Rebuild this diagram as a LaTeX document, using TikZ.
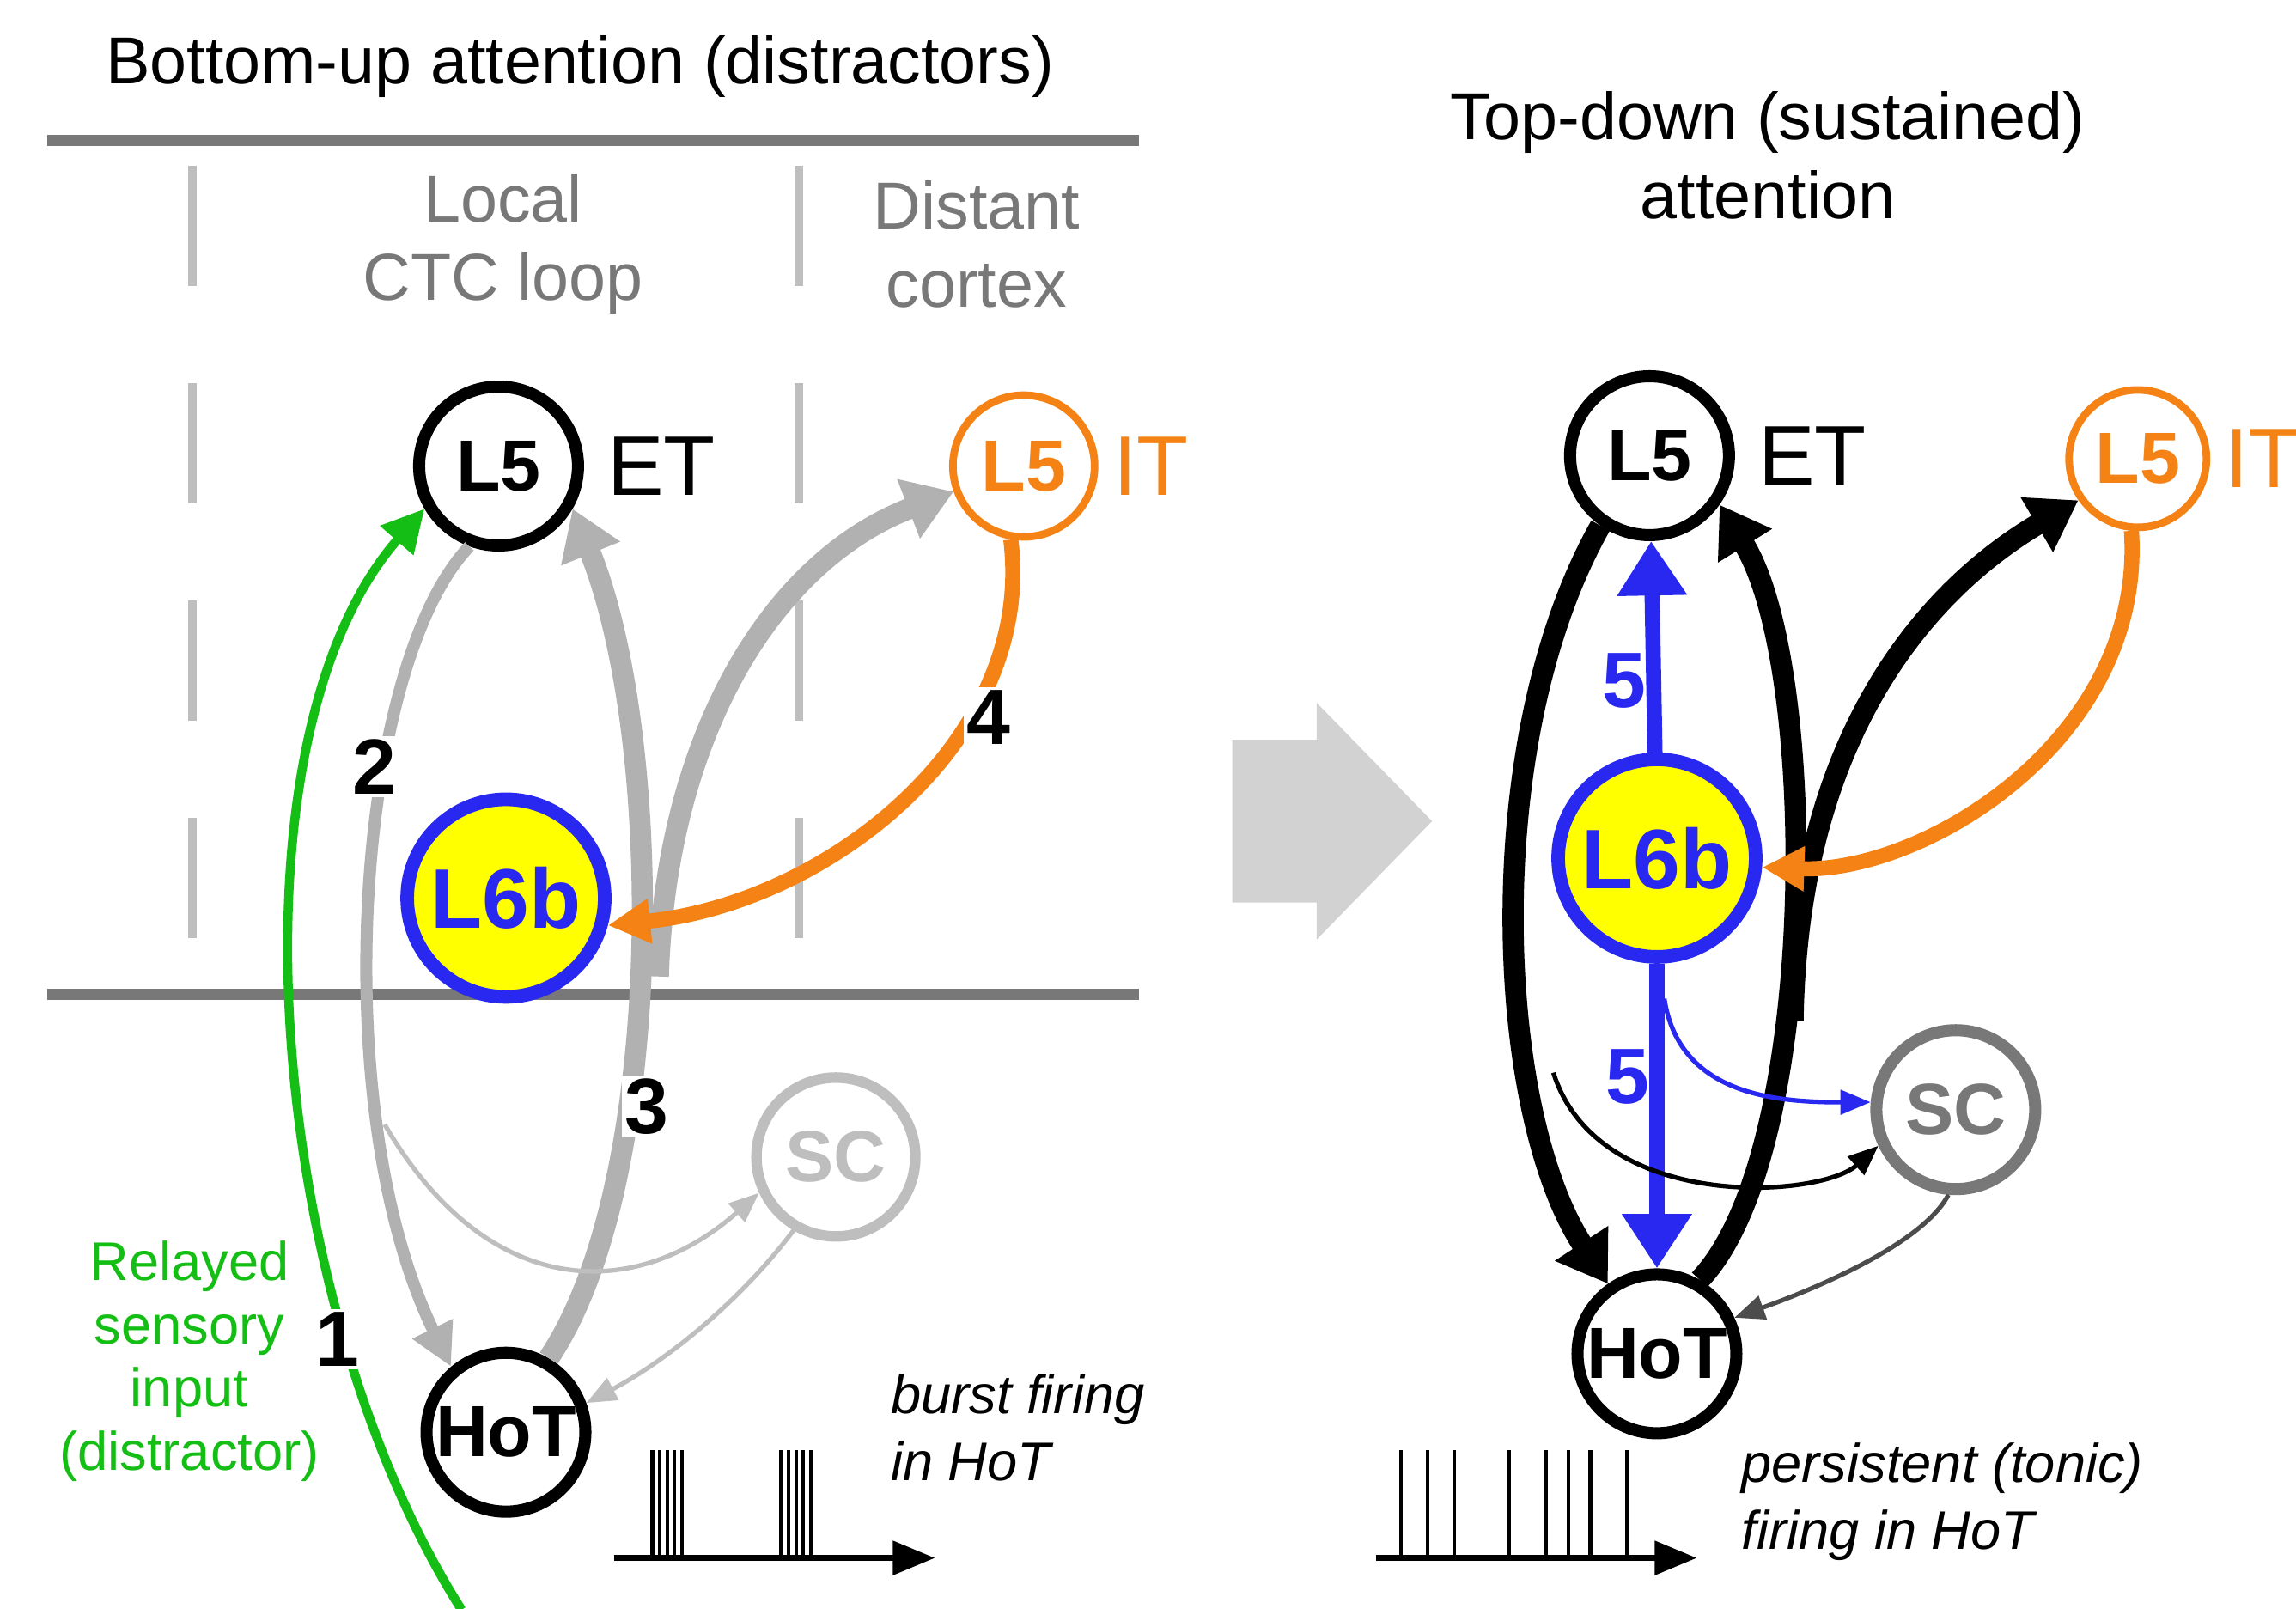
\documentclass[tikz,border=0pt]{standalone}
\usepackage{fontspec}
\setmainfont{Liberation Sans}
\usetikzlibrary{arrows.meta, positioning, shapes}
\definecolor{my_gray}{RGB}{120,120,120}
\definecolor{my_lightgray}{RGB}{190,190,190}
\definecolor{my_orange}{RGB}{245,130,20}
\definecolor{my_green}{RGB}{20,190,20}
\definecolor{my_blue}{RGB}{40,40,240}
\definecolor{my_yellow}{RGB}{255,255,0}
\tikzset {
  cell/.style = {draw, circle, line width=4pt, minimum size=1.85cm, inner sep=0pt, font=\fontsize{24}{24}\selectfont\bfseries},
  bigcell/.style = {cell, draw=my_blue, fill=my_yellow, text=my_blue, minimum size=2.3cm, line width=4.5pt, font=\fontsize{28}{28}\selectfont\bfseries},
  lbl/.style = {font=\fontsize{22}{26}\selectfont, align=center},
  num/.style = {font=\fontsize{26}{26}\selectfont\bfseries, fill=white, inner sep=1pt},
  fat/.style = {line width=7pt, -{Triangle[length=16pt, width=20pt]}},
  mid/.style = {line width=4pt, -{Triangle[length=14pt, width=14pt]}},
  slim/.style = {line width=1.5pt, -{Triangle[length=10pt, width=8pt]}},
  layer/.style = {line width=3.5pt, draw=my_gray},
  spike/.style = {line width=1.2pt},
}
\begin{document}
\begin{tikzpicture}[x=0.01722cm, y=-0.01722cm]
    \useasboundingbox (0,0) rectangle (1552,1087);

    % left panel
    \node[lbl] (title_bu) at (392,45) {Bottom-up attention (distractors)};
    \draw[layer] (32,95) -- (770,95);
    \draw[layer] (32,672) -- (770,672);
    \draw[my_lightgray, line width=3pt, dash pattern=on 40pt off 32pt] (130,112) -- (130,640);
    \draw[my_lightgray, line width=3pt, dash pattern=on 40pt off 32pt] (540,112) -- (540,640);
    \node[lbl, text=my_gray] (local) at (340,165) {Local\\CTC loop};
    \node[lbl, text=my_gray] (distant) at (660,165) {Distant\\cortex};

    \node[cell] (et) at (337,315) {L5};
    \node[lbl, font=\fontsize{28}{28}\selectfont, right=0.15cm of et] (et_l) {ET};
    \node[cell, draw=my_orange, text=my_orange, line width=2.5pt, minimum size=1.65cm] (it) at (692,315) {L5};
    \node[lbl, font=\fontsize{28}{28}\selectfont, text=my_orange, right=0.05cm of it] (it_l) {IT};
    \node[bigcell] (l6b) at (342,607) {L6b};
    \node[cell] (hot) at (342,968) {HoT};
    \node[cell, draw=my_lightgray, text=my_lightgray, line width=3.5pt] (sc) at (565,782) {SC};

    \coordinate (green_start) at (312,1088);
    \coordinate (gray_src) at (260,760);
    \coordinate (branch) at (445,660);

    \draw[my_green, mid, line width=3pt] (green_start) .. controls (180,880) and (150,500) .. (et.210);
    \draw[my_lightgray!80!gray, mid] (et.250) .. controls (240,450) and (220,750) .. (hot.130);
    \draw[my_lightgray!80!gray, fat] (hot.60) .. controls (450,800) and (450,500) .. (et.-30);
    \draw[my_lightgray!80!gray, fat] (branch) .. controls (450,500) and (520,380) .. (it.200);
    \draw[my_orange, mid, line width=5pt] (it.260) .. controls (700,500) and (560,610) .. (l6b.-15);
    \draw[my_lightgray, slim] (gray_src) .. controls (330,880) and (430,880) .. (sc.205);
    \draw[my_lightgray, slim] (sc.240) .. controls (500,880) and (450,920) .. (hot.20);

    \node[num] (n1) at (228,905) {1};
    \node[num] (n2) at (253,518) {2};
    \node[num] (n3) at (437,748) {3};
    \node[num] (n4) at (668,485) {4};
    \node[lbl, text=my_green, font=\fontsize{18}{21}\selectfont] (relay) at (128,920) {Relayed\\sensory\\input\\(distractor)};

    \node[lbl, font=\fontsize{18}{22}\selectfont\itshape, align=left, anchor=west] (burst) at (595,965) {burst firing\\in HoT};
    \coordinate (base_l0) at (415,1053);
    \coordinate (base_l1) at (632,1053);
    \draw[line width=2pt, -{Triangle[length=14pt, width=11pt]}] (base_l0) -- (base_l1);
    \foreach \x in {441,446,451,456,461,528,533,538,543,548}
        \draw[spike] (\x,1053) -- (\x,980);

    % transition arrow
    \fill[my_lightgray!70] (833,500) -- (890,500) -- (890,475) -- (968,555) -- (890,635) -- (890,610) -- (833,610) -- cycle;

    % right panel
    \node[lbl] (title_td) at (1195,105) {Top-down (sustained)\\attention};

    \node[cell] (et2) at (1115,308) {L5};
    \node[lbl, font=\fontsize{28}{28}\selectfont, right=0.15cm of et2] (et2_l) {ET};
    \node[cell, draw=my_orange, text=my_orange, line width=2.5pt, minimum size=1.6cm] (it2) at (1445,310) {L5};
    \node[lbl, font=\fontsize{28}{28}\selectfont, text=my_orange, right=0.05cm of it2] (it2_l) {IT};
    \node[bigcell] (l6b2) at (1120,580) {L6b};
    \node[cell, draw=my_gray, text=my_gray] (sc2) at (1322,750) {SC};
    \node[cell] (hot2) at (1120,915) {HoT};

    \coordinate (branch2) at (1212,690);
    \coordinate (black_src) at (1050,725);
    \coordinate (blue_src) at (1125,675);

    \draw[black, fat] (et2.235) .. controls (1000,500) and (1010,750) .. (hot2.125);
    \draw[black, fat] (hot2.60) .. controls (1230,780) and (1230,450) .. (et2.-35);
    \draw[black, fat] (branch2) .. controls (1215,500) and (1300,400) .. (it2.215);
    \draw[my_orange, mid, line width=5pt] (it2.265) .. controls (1450,500) and (1300,590) .. (l6b2.-5);
    \draw[my_blue, line width=5pt, -{Triangle[length=18pt, width=22pt]}] (l6b2) -- (et2);
    \draw[my_blue, line width=5pt, -{Triangle[length=18pt, width=22pt]}] (l6b2) -- (hot2);
    \draw[my_blue, slim] (blue_src) .. controls (1135,740) and (1200,745) .. (sc2.175);
    \draw[black, slim] (black_src) .. controls (1080,820) and (1230,810) .. (sc2.205);
    \draw[black!70, slim] (sc2.265) .. controls (1300,840) and (1230,870) .. (hot2.25);

    \node[num, text=my_blue, fill=none] (n5a) at (1098,460) {5};
    \node[num, text=my_blue, fill=none] (n5b) at (1100,728) {5};

    \node[lbl, font=\fontsize{18}{22}\selectfont\itshape, align=left, anchor=west] (tonic) at (1170,1015) {persistent (tonic)\\firing in HoT};
    \coordinate (base_r0) at (930,1053);
    \coordinate (base_r1) at (1147,1053);
    \draw[line width=2pt, -{Triangle[length=14pt, width=11pt]}] (base_r0) -- (base_r1);
    \foreach \x in {947,965,983,1020,1045,1060,1075,1100}
        \draw[spike] (\x,1053) -- (\x,980);

\end{tikzpicture}
\end{document}
